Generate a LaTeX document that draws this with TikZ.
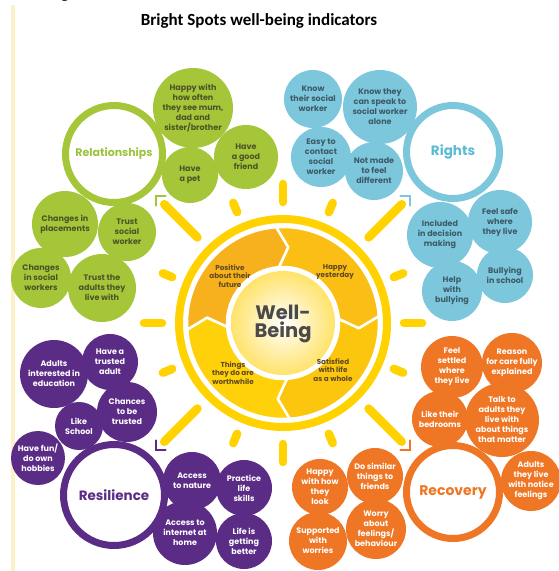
\documentclass[tikz,border=0pt]{standalone}
\usepackage{fontspec}
\setmainfont{Poppins}
\newfontfamily\titlefont{Carlito}
\usetikzlibrary{calc}

% palette
\definecolor{sun}{HTML}{FFD200}
\definecolor{segA}{HTML}{F6B11C}
\definecolor{segB}{HTML}{FBBE14}
\definecolor{segC}{HTML}{FDC60E}
\definecolor{segD}{HTML}{FFD10A}
\definecolor{sunpale}{HTML}{FFE36A}
\definecolor{segtext}{HTML}{5E4A1E}
\definecolor{wbtext}{HTML}{4A4A4A}
\definecolor{grn}{HTML}{A6C63A}
\definecolor{grntext}{HTML}{4C5427}
\definecolor{grntitle}{HTML}{9AC43E}
\definecolor{blu}{HTML}{7CC7DC}
\definecolor{blutext}{HTML}{3D5A68}
\definecolor{blutitle}{HTML}{5CBAD5}
\definecolor{pur}{HTML}{5B2C86}
\definecolor{org}{HTML}{EE7624}
\definecolor{edgeline}{HTML}{FCF1C8}

\newcommand\bubfont{\fontsize{8}{10}\selectfont\bfseries}
\newcommand\headfont{\titlefont\fontsize{17}{20}\selectfont\bfseries}

\tikzset{
  ray/.style={draw=sun, line width=8.5pt, line cap=round},
  chev/.style={draw=#1, line width=1.8pt, line cap=round, line join=miter},
  bubble/.style={circle, inner sep=-8pt, align=center, font=\bubfont},
  gb/.style={bubble, fill=grn, text=grntext, minimum size=#1},
  bb/.style={bubble, fill=blu, text=blutext, minimum size=#1},
  pb/.style={bubble, fill=pur, text=white, minimum size=#1},
  ob/.style={bubble, fill=org, text=white, minimum size=#1},
  hubst/.style={circle, fill=white, line width=7pt, inner sep=0pt, font=\bfseries},
  seglab/.style={font=\fontsize{7.2}{8.7}\selectfont\bfseries, text=segtext, align=center},
}

\begin{document}
\begin{tikzpicture}[x=1pt,y=-1pt]
\useasboundingbox[fill=white] (0,0) rectangle (558,571);

% page margin rule
\draw[edgeline, line width=4pt] (13,5) -- (13,571);

% heading
\node[font=\headfont, anchor=base] (gcut) at (65,-1.5) {g};
\node[font=\headfont, anchor=base] (title) at (259,25) {Bright Spots well-being indicators};

% sun centre
\coordinate (C) at (283,323);

% rays
\foreach \a in {0,90,180,270}
  \draw[ray] ($(C)+(\a:121)$) -- ($(C)+(\a:139)$);
\foreach \a in {22.5,67.5,112.5,157.5,202.5,247.5,292.5,337.5}
  \draw[ray] ($(C)+(\a:120)$) -- ($(C)+(\a:130)$);
\foreach \a/\c in {45/org,135/pur,225/grn,315/blu}{
  \draw[ray] ($(C)+(\a:121)$) -- ($(C)+(\a:168)$);
  \coordinate (tip\a) at ($(C)+(\a:180)$);
  \draw[chev=\c] (tip\a) ++({\a+135}:10) -- (tip\a) -- ++({\a+225}:10);
}

% outer ring
\draw[sun, line width=8pt] (C) circle[radius=104];

% circular arrow segments
\foreach \a/\c in {176/segA,266/segB,356/segC,86/segD}
  \path[fill=\c, draw=white, line width=2.5pt, line join=round, shift={(C)}]
    (\a:96) arc[start angle=\a, delta angle=90, radius=96]
    -- ({\a+98}:76) -- ({\a+90}:56)
    arc[start angle={\a+90}, delta angle=-90, radius=56]
    -- ({\a+8}:76) -- cycle;

% glowing core
\shade[inner color=white, outer color=sunpale] (C) circle[radius=52];
\node[font=\fontsize{19.5}{18.5}\selectfont\bfseries, text=wbtext, align=center] (wb) at (283,324) {Well-\\Being};

\node[seglab] (s1) at (230,276) {Positive\\about their\\future};
\node[seglab] (s2) at (335,272) {Happy\\yesterday};
\node[seglab] (s3) at (333,370) {Satisfied\\with life\\as a whole};
\node[seglab] (s4) at (233,373) {Things\\they do are\\worthwhile};

% Relationships
\node[gb=80pt] (g1) at (193,108) {Happy with\\how often\\they see mum,\\dad and\\sister/brother};
\node[gb=64pt] (g2) at (246,157) {Have\\a good\\friend};
\node[gb=56pt] (g3) at (190,175) {Have\\a pet};
\node[gb=66pt] (g4) at (65,224) {Changes in\\placements};
\node[gb=58pt] (g5) at (127,232) {Trust\\social\\worker};
\node[gb=60pt] (g6) at (41,278) {Changes\\in social\\workers};
\node[gb=68pt] (g7) at (102,288) {Trust the\\adults they\\live with};
\node[hubst, draw=grn, text=grntitle, minimum size=97pt, font=\fontsize{11}{13}\selectfont\bfseries] (relhub) at (114,154) {Relationships};

% Rights
\node[bb=58pt] (b1) at (313,99) {Know\\their social\\worker};
\node[bb=74pt] (b2) at (380,107) {Know they\\can speak to\\social worker\\alone};
\node[bb=60pt] (b3) at (321,157) {Easy to\\contact\\social\\worker};
\node[bb=58pt] (b4) at (374,171) {Not made\\to feel\\different};
\node[bb=66pt] (b5) at (440,235) {Included\\in decision\\making};
\node[bb=64pt] (b6) at (500,222) {Feel safe\\where\\they live};
\node[bb=56pt] (b7) at (505,275) {Bullying\\in school};
\node[bb=60pt] (b8) at (452,291) {Help\\with\\bullying};
\node[hubst, draw=blu, text=blutitle, minimum size=93pt, font=\fontsize{13.5}{15}\selectfont\bfseries] (righthub) at (453,152) {Rights};

% Resilience
\node[pb=68pt] (p1) at (54,374) {Adults\\interested in\\education};
\node[pb=56pt] (p2) at (110,362) {Have a\\trusted\\adult};
\node[pb=60pt] (p3) at (127,412) {Chances\\to be\\trusted};
\node[pb=48pt] (p4) at (79,426) {Like\\School};
\node[pb=54pt] (p5) at (38,458) {Have fun/\\do own\\hobbies};
\node[pb=58pt] (p6) at (192,481) {Access\\to nature};
\node[pb=56pt] (p7) at (244,488) {Practice\\life\\skills};
\node[pb=64pt] (p8) at (185,533) {Access to\\internet at\\home};
\node[pb=56pt] (p9) at (244,541) {Life is\\getting\\better};
\node[hubst, draw=pur, text=pur, minimum size=101pt, font=\fontsize{13.5}{15}\selectfont\bfseries] (reshub) at (114,495) {Resilience};

% Recovery
\node[ob=62pt] (o1) at (452,367) {Feel\\settled\\where\\they live};
\node[ob=60pt] (o2) at (512,363) {Reason\\for care fully\\explained};
\node[ob=56pt] (o3) at (440,419) {Like their\\bedrooms};
\node[ob=74pt] (o4) at (502,420) {Talk to\\adults they\\live with\\about things\\that matter};
\node[ob=60pt] (o5) at (531,481) {Adults\\they live\\with notice\\feelings};
\node[ob=56pt] (o6) at (375,476) {Do similar\\things to\\friends};
\node[ob=56pt] (o7) at (320,487) {Happy\\with how\\they\\look};
\node[ob=60pt] (o8) at (376,529) {Worry\\about\\feelings/\\behaviour};
\node[ob=58pt] (o9) at (318,541) {Supported\\with\\worries};
\node[hubst, draw=org, text=org, minimum size=93pt, font=\fontsize{14}{16}\selectfont\bfseries] (rechub) at (453,492) {Recovery};

\end{tikzpicture}
\end{document}
